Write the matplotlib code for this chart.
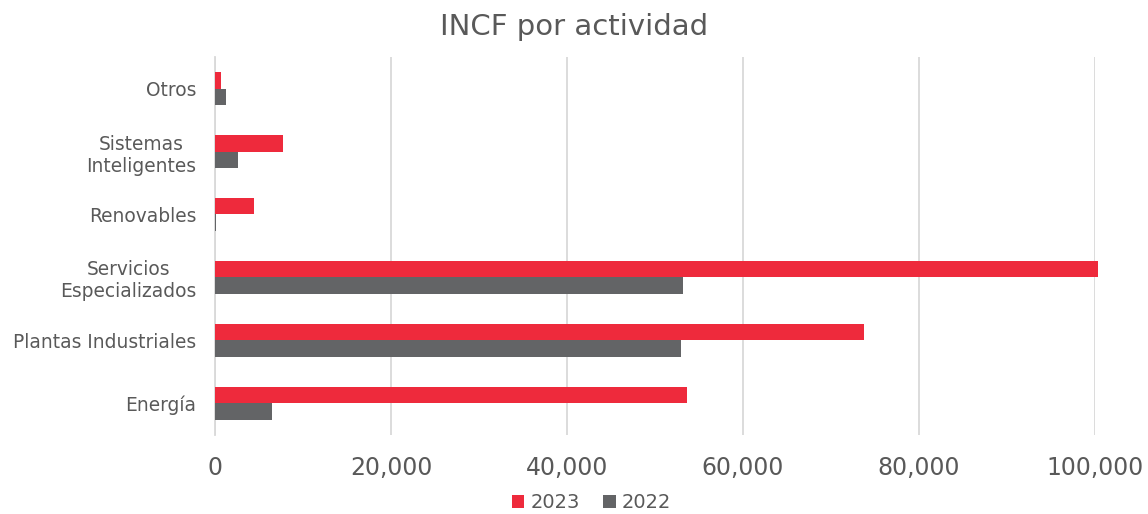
import matplotlib
matplotlib.use("Agg")
import matplotlib.pyplot as plt
import numpy as np

plt.rcParams["font.family"] = ["DejaVu Sans"]

categories = ["Energía", "Plantas Industriales", "Servicios\nEspecializados",
              "Renovables", "Sistemas\nInteligentes", "Otros"]
v2023 = [53600, 73700, 100300, 4400, 7700, 700]
v2022 = [6500, 52900, 53200, 100, 2600, 1300]
xticks = [0, 20000, 40000, 60000, 80000, 100000]

red = "#EE2A3C"
grey = "#636466"
txt = "#595959"

fig = plt.figure(figsize=(11.48, 5.14), dpi=100)
ax = fig.add_axes([0.1873, 0.154, 0.7665, 0.735])

y = np.arange(len(categories))
h = 0.265
ax.barh(y + h / 2, v2023, height=h, color=red, label="2023", clip_on=False, zorder=3)
ax.barh(y - h / 2, v2022, height=h, color=grey, label="2022", clip_on=False, zorder=3)

ax.set_xlim(0, 100000)
ax.set_ylim(-0.5, len(categories) - 0.5)
ax.set_xticks(xticks)
ax.set_xticklabels([f"{t:,}" for t in xticks], fontsize=17, color=txt)
ax.set_yticks(y)
ax.set_yticklabels(categories, fontsize=13.4, color=txt, multialignment="center")
ax.tick_params(length=0)
ax.tick_params(axis="y", pad=13.5)
ax.tick_params(axis="x", pad=15)

ax.grid(axis="x", color="#D9D9D9", linewidth=1.3, zorder=0)
for s in ["top", "right", "bottom"]:
    ax.spines[s].set_visible(False)
ax.spines["left"].set_color("#D9D9D9")
ax.spines["left"].set_linewidth(1.3)

fig.suptitle("INCF por actividad", fontsize=21, color=txt, y=0.975)
fig.legend(loc="lower center", ncol=2, frameon=False, fontsize=14,
           labelcolor=txt, handlelength=0.65, handleheight=0.65,
           handletextpad=0.3, columnspacing=1.2, bbox_to_anchor=(0.515, -0.03))

fig.savefig("out.png", dpi=100)
